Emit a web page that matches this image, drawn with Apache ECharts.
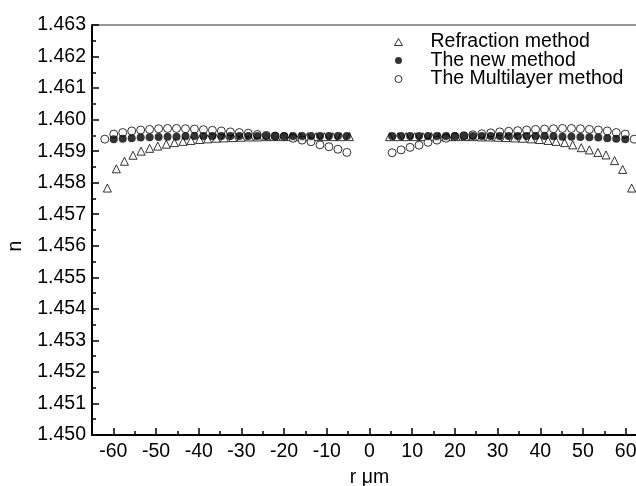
<!DOCTYPE html>
<html>
<head>
<meta charset="utf-8">
<script src="https://cdn.jsdelivr.net/npm/echarts@6/dist/echarts.min.js"></script>
<style>
  html, body { margin: 0; padding: 0; background: #fff; }
  #main { width: 636px; height: 486px; }
</style>
</head>
<body>
<div id="main"></div>
<script>
// r positions (um) of the circle markers, left and right half
var circleXLeft = [-62.0, -59.9, -57.8, -55.7, -53.6, -51.5, -49.4, -47.3, -45.2, -43.1, -41.0, -38.9, -36.8, -34.7,
  -32.6, -30.5, -28.4, -26.3, -24.2, -22.1, -20.0, -17.9, -15.8, -13.7, -11.6, -9.5, -7.4, -5.3];
var circleXRight = [5.3, 7.4, 9.5, 11.6, 13.7, 15.8, 17.9, 20.0, 22.1, 24.2, 26.3, 28.4, 30.5, 32.6,
  34.7, 36.8, 38.9, 41.0, 43.1, 45.2, 47.3, 49.4, 51.5, 53.6, 55.7, 57.8, 59.9, 62.0];
// r positions of the triangle markers
var triXLeft = [-61.4, -59.3, -57.4, -55.4, -53.5, -51.5, -49.6, -47.6, -45.7, -43.7, -41.8, -39.8, -37.9, -35.9,
  -34.0, -32.0, -30.1, -28.1, -26.2, -24.2, -22.3, -20.3, -18.4, -16.4, -14.5, -12.5, -10.6, -8.6, -6.7, -4.7];
var triXRight = [4.7, 6.7, 8.6, 10.6, 12.5, 14.5, 16.4, 18.4, 20.3, 22.3, 24.2, 26.2, 28.1, 30.1,
  32.0, 34.0, 35.9, 37.9, 39.8, 41.8, 43.7, 45.7, 47.6, 49.6, 51.5, 53.5, 55.4, 57.4, 59.3, 61.4];

// Refraction method (open triangles)
var refractionLeft = [1.45783, 1.45844, 1.45868, 1.45887, 1.45900, 1.45909, 1.45916, 1.45922, 1.45927, 1.45931,
  1.45934, 1.45937, 1.45939, 1.45941, 1.45942, 1.45943, 1.45944, 1.45945, 1.45945, 1.45946,
  1.45946, 1.45946, 1.45946, 1.45946, 1.45946, 1.45946, 1.45946, 1.45946, 1.45946, 1.45946];
var refractionRight = [1.45946, 1.45946, 1.45946, 1.45946, 1.45946, 1.45946, 1.45946, 1.45946, 1.45946, 1.45946,
  1.45946, 1.45945, 1.45945, 1.45944, 1.45943, 1.45942, 1.45941, 1.45939, 1.45937, 1.45934,
  1.45931, 1.45927, 1.45920, 1.45911, 1.45904, 1.45896, 1.45888, 1.45870, 1.45842, 1.45783];

// The new method (filled circles), no point at the outermost r
var newLeft = [null, 1.45938, 1.45939, 1.45941, 1.45943, 1.45944, 1.45945, 1.45946, 1.45946, 1.45947,
  1.45948, 1.45948, 1.45948, 1.45948, 1.45948, 1.45948, 1.45948, 1.45948, 1.45948, 1.45948,
  1.45948, 1.45948, 1.45948, 1.45948, 1.45948, 1.45948, 1.45948, 1.45948];
var newRight = [1.45948, 1.45948, 1.45948, 1.45948, 1.45948, 1.45948, 1.45948, 1.45948, 1.45948, 1.45948,
  1.45948, 1.45948, 1.45948, 1.45948, 1.45948, 1.45948, 1.45948, 1.45948, 1.45947, 1.45946,
  1.45946, 1.45945, 1.45944, 1.45943, 1.45941, 1.45939, 1.45938, null];

// The Multilayer method (open circles)
var multiLeft = [1.45938, 1.45954, 1.45959, 1.45964, 1.45967, 1.45969, 1.45971, 1.45972, 1.45972, 1.45971,
  1.45970, 1.45968, 1.45966, 1.45964, 1.45961, 1.45959, 1.45957, 1.45953, 1.45950, 1.45948,
  1.45946, 1.45941, 1.45935, 1.45930, 1.45920, 1.45914, 1.45906, 1.45896];
var multiRight = [1.45895, 1.45904, 1.45912, 1.45919, 1.45928, 1.45935, 1.45941, 1.45946, 1.45949, 1.45952,
  1.45955, 1.45958, 1.45961, 1.45963, 1.45965, 1.45967, 1.45969, 1.45970, 1.45971, 1.45972,
  1.45972, 1.45971, 1.45969, 1.45967, 1.45964, 1.45959, 1.45954, 1.45938];

var xMajorTicks = [-60, -50, -40, -30, -20, -10, 0, 10, 20, 30, 40, 50, 60];
var xMinorTicks = [-55, -45, -35, -25, -15, -5, 5, 15, 25, 35, 45, 55];
var seriesNames = ["Refraction method", "The new method", "The Multilayer method"];

function pairs(xs, ys) {
  var out = [];
  for (var i = 0; i < xs.length; i++) {
    if (ys[i] !== null) out.push([xs[i], ys[i]]);
  }
  return out;
}

var font = "Liberation Sans";
var myChart = echarts.init(document.getElementById("main"));
var option = {
  animation: false,
  backgroundColor: "#fff",
  grid: { left: 92, right: -11, top: 25, bottom: 51, outerBoundsMode: "none", containLabel: false },
  legend: {
    orient: "vertical",
    left: 389,
    top: 27,
    itemWidth: 8,
    itemHeight: 7,
    itemGap: -1.5,
    textStyle: { fontFamily: font, fontSize: 19.5, color: "#000", lineHeight: 18, padding: [0, 0, 0, 23] },
    data: [
      { name: seriesNames[0], icon: "triangle", itemStyle: { color: "#fff", borderColor: "#000", borderWidth: 1 } },
      { name: seriesNames[1], icon: "circle", itemStyle: { color: "#000", borderColor: "#000", borderWidth: 0 } },
      { name: seriesNames[2], icon: "circle", itemStyle: { color: "#fff", borderColor: "#000", borderWidth: 1 } },
    ],
  },
  xAxis: [
    {
      type: "value",
      min: -65,
      max: 65,
      name: "r μm",
      nameLocation: "middle",
      nameGap: 33,
      nameTextStyle: { fontFamily: font, fontSize: 19.5, color: "#000", verticalAlign: "top" },
      splitLine: { show: false },
      axisLine: { onZero: false, lineStyle: { color: "#000", width: 2 } },
      axisTick: { inside: true, length: 7, customValues: xMajorTicks, lineStyle: { color: "#000", width: 1.5 } },
      axisLabel: { customValues: xMajorTicks, margin: 7, fontFamily: font, fontSize: 19.5, color: "#000" },
    },
    {
      type: "value",
      min: -65,
      max: 65,
      position: "bottom",
      splitLine: { show: false },
      axisLine: { show: false, onZero: false },
      axisTick: { inside: true, length: 4, customValues: xMinorTicks, lineStyle: { color: "#000", width: 1.5 } },
      axisLabel: { show: false },
    },
    {
      type: "value",
      min: -65,
      max: 65,
      position: "top",
      splitLine: { show: false },
      axisLine: { onZero: false, lineStyle: { color: "#777", width: 1.5 } },
      axisTick: { show: false },
      axisLabel: { show: false },
    },
  ],
  yAxis: {
    type: "value",
    min: 1.45,
    max: 1.463,
    interval: 0.001,
    name: "n",
    nameLocation: "middle",
    nameGap: 66,
    nameTextStyle: { fontFamily: font, fontSize: 19.5, color: "#000", padding: [0, 32, 0, 0] },
    splitLine: { show: false },
    axisLine: { onZero: false, lineStyle: { color: "#000", width: 2 } },
    axisTick: { inside: true, length: 7, lineStyle: { color: "#000", width: 1.5 } },
    minorTick: { show: true, splitNumber: 2, length: 4, lineStyle: { color: "#000", width: 1.5 } },
    minorSplitLine: { show: false },
    axisLabel: {
      margin: 6,
      fontFamily: font,
      fontSize: 19.5,
      color: "#000",
      formatter: function (v) {
        return v.toFixed(3);
      },
    },
  },
  series: [
    {
      name: seriesNames[0],
      type: "scatter",
      symbol: "triangle",
      symbolSize: 8,
      z: 2,
      itemStyle: { color: "#fff", borderColor: "#000", borderWidth: 1 },
      data: pairs(triXLeft, refractionLeft).concat(pairs(triXRight, refractionRight)),
    },
    {
      name: seriesNames[1],
      type: "scatter",
      symbol: "circle",
      symbolSize: 8,
      z: 4,
      itemStyle: { color: "#000", borderColor: "#000", borderWidth: 0 },
      data: pairs(circleXLeft, newLeft).concat(pairs(circleXRight, newRight)),
    },
    {
      name: seriesNames[2],
      type: "scatter",
      symbol: "circle",
      symbolSize: 8,
      z: 3,
      itemStyle: { color: "#fff", borderColor: "#000", borderWidth: 1 },
      data: pairs(circleXLeft, multiLeft).concat(pairs(circleXRight, multiRight)),
    },
  ],
};
myChart.setOption(option);
</script>
</body>
</html>
